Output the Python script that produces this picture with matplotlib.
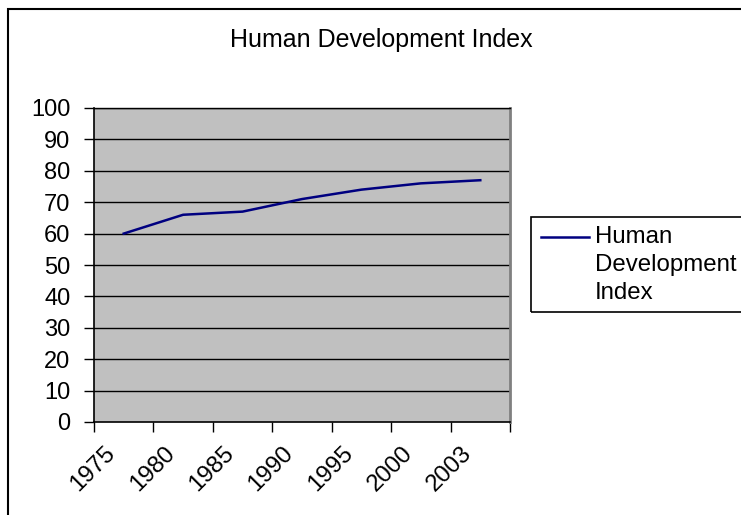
import numpy as np
import matplotlib.pyplot as plt
from matplotlib.patches import Rectangle
from matplotlib.lines import Line2D
import matplotlib.transforms as mtransforms

plt.rcParams['font.family'] = ['Liberation Sans', 'DejaVu Sans']

years = ['1975', '1980', '1985', '1990', '1995', '2000', '2003']
hdi = [60, 66, 67, 71, 74, 76, 77]
yticks = list(range(0, 101, 10))
series_name = 'Human\nDevelopment\nIndex'

W, H = 741, 515
fig = plt.figure(figsize=(W / 100, H / 100), dpi=100)
fig.patch.set_facecolor('white')

def fx(px):
    return px / W

def fy(py):
    return 1 - py / H

# outer chart frame (runs off the right and bottom edges)
fig.add_artist(Rectangle((fx(8), fy(520)), fx(760) - fx(8), fy(9) - fy(520),
                         transform=fig.transFigure, fill=False,
                         edgecolor='black', linewidth=1.5, clip_on=False))

ax = fig.add_axes([fx(94), fy(422), fx(510) - fx(94), fy(108) - fy(422)])
ax.set_facecolor('#c0c0c0')

x = np.arange(len(years))
ax.plot(x, hdi, color='#000080', linewidth=1.8, zorder=3)

ax.set_xlim(-0.5, len(years) - 0.5)
ax.set_ylim(0, 100)
ax.set_yticks(yticks)
ax.tick_params(axis='y', labelsize=17, length=7, width=1, direction='out', pad=10)
ax.set_xticks(np.arange(-0.5, len(years)))
ax.set_xticklabels([])
ax.tick_params(axis='x', length=7, width=1, direction='out')
for yv in yticks[1:]:
    ax.axhline(yv, color='black', linewidth=1, zorder=1)

for side in ['left', 'bottom']:
    ax.spines[side].set_color('black')
    ax.spines[side].set_linewidth(1.2)
ax.spines['right'].set_color('#808080')
ax.spines['right'].set_linewidth(2)
ax.spines['top'].set_color('black')
ax.spines['top'].set_linewidth(1)

offset = mtransforms.ScaledTranslation(-12 / 100, -28 / 100, fig.dpi_scale_trans)
for xi, lab in zip(x, years):
    ax.text(xi, 0, lab, transform=ax.get_xaxis_transform() + offset,
            rotation=45, rotation_mode='anchor', ha='right', va='center',
            fontsize=17.3)

fig.text(fx(381), fy(40), 'Human Development Index', ha='center', va='center',
         fontsize=18)

# legend box
fig.add_artist(Rectangle((fx(531), fy(312)), fx(760) - fx(531), fy(217) - fy(312),
                         transform=fig.transFigure, fill=False,
                         edgecolor='black', linewidth=1.2, clip_on=False))
fig.add_artist(Line2D([fx(541), fx(589)], [fy(237), fy(237)],
                      transform=fig.transFigure, color='#000080', linewidth=1.8))
fig.text(fx(595), fy(237), series_name, ha='left', va='top', fontsize=17.3,
         linespacing=1.34,
         transform=fig.transFigure + mtransforms.ScaledTranslation(0, 11 / 100, fig.dpi_scale_trans))

fig.savefig('out.png', dpi=100)
